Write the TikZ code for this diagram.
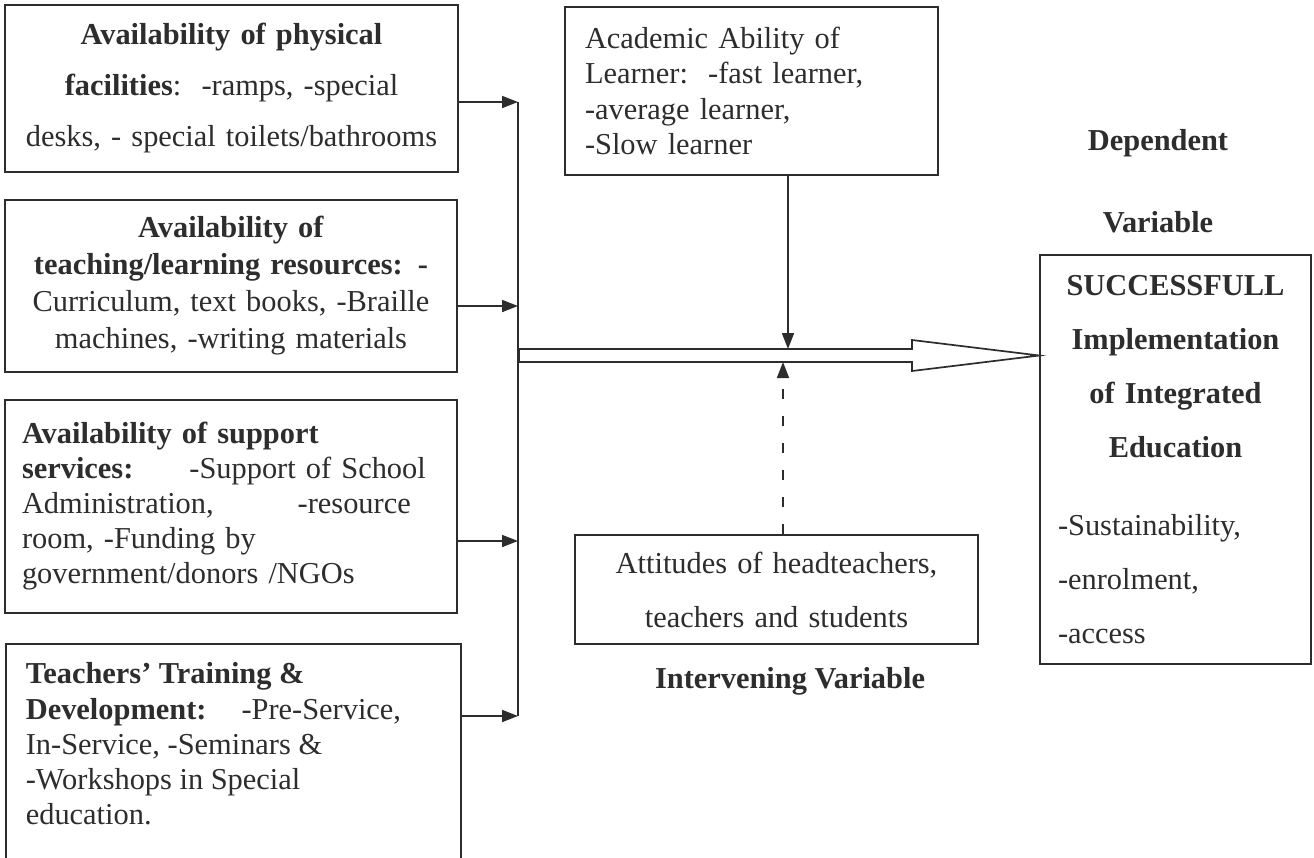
\documentclass[tikz,border=0pt]{standalone}
\usepackage{fontspec}
\setmainfont{Liberation Serif}
\usetikzlibrary{arrows.meta}
\definecolor{ink}{RGB}{45,45,45}
\begin{document}
\begin{tikzpicture}[x=0.5pt,y=-0.5pt,
  box/.style={draw=ink, line width=0.85pt, text=ink, inner sep=0pt},
  conn/.style={draw=ink, line width=0.85pt},
  arr/.style={draw=ink, line width=0.85pt, -{Triangle[length=8pt,width=6pt]}},
  lbl/.style={text=ink, font=\fontsize{15.2pt}{18pt}\selectfont\bfseries, inner sep=0pt, anchor=base}]
\useasboundingbox[fill=white] (0,0) rectangle (1314,858);

% independent variable boxes
\node[box, minimum width=226.5pt, minimum height=83.5pt, text width=215pt, align=center,
      font=\fontsize{15.2pt}{25.5pt}\selectfont] (b1) at (231.5,88.5)
 {\textbf{Availability of physical}\\
  \mbox{\textbf{facilities}:~~-ramps, -special}\\
  \mbox{desks, - special toilets/bathrooms}};

\node[box, minimum width=226pt, minimum height=86pt, text width=215pt, align=center,
      font=\fontsize{15.2pt}{18.5pt}\selectfont] (b2) at (231,286)
 {\textbf{Availability of}\\
  \mbox{\textbf{teaching/learning resources: -}}\\
  \mbox{Curriculum, text books, -Braille}\\
  \mbox{machines, -writing materials}};

\node[box, minimum width=226pt, minimum height=106.5pt, text width=209pt, align=left,
      font=\fontsize{15.2pt}{17.5pt}\selectfont] (b3) at (231,506.5)
 {\mbox{\textbf{Availability of support}}\\
  \mbox{\textbf{services:}\hspace*{28pt}-Support of School}\\
  \mbox{Administration,\hspace*{42pt}-resource}\\
  \mbox{room, -Funding by}\\
  \mbox{government/donors /NGOs}};

\node[box, anchor=north west, inner xsep=10pt, inner ysep=9.5pt] (b4) at (5,643)
 {\begin{minipage}[t][100pt][t]{207.5pt}\raggedright
  \fontsize{15.2pt}{17.6pt}\selectfont
  \mbox{\textbf{Teachers’ Training \&}}\\
  \mbox{\textbf{Development:}\hspace*{17.5pt}-Pre-Service,}\\
  \mbox{In-Service, -Seminars \&}\\
  \mbox{-Workshops in Special}\\
  \mbox{education.}
  \end{minipage}};

% moderating / intervening boxes
\node[box, minimum width=186.5pt, minimum height=84pt, text width=166.5pt, align=left,
      font=\fontsize{15.2pt}{17.6pt}\selectfont] (acad) at (751.5,91)
 {\mbox{Academic Ability of}\\
  \mbox{Learner:~~-fast learner,}\\
  \mbox{-average learner,}\\
  \mbox{-Slow learner}};

\node[box, minimum width=201.5pt, minimum height=54.5pt, text width=190pt, align=center,
      font=\fontsize{15.2pt}{27pt}\selectfont] (att) at (776.5,589.5)
 {\mbox{Attitudes of headteachers,}\\
  \mbox{teachers and students}};

% dependent variable box
\node[box, minimum width=135.5pt, minimum height=204.5pt, text width=117.5pt, align=left,
      font=\fontsize{15.2pt}{27pt}\selectfont] (out) at (1175.5,459.5)
 {\makebox[117.5pt]{\textbf{SUCCESSFULL}}\\
  \makebox[117.5pt]{\textbf{Implementation}}\\
  \makebox[117.5pt]{\textbf{of Integrated}}\\
  \makebox[117.5pt]{\textbf{Education}}\\[12pt]
  -Sustainability,\\
  -enrolment,\\
  -access};

% labels
\node[lbl] (dep) at (1158,150) {Dependent};
\node[lbl] (var) at (1158,232) {Variable};
\node[lbl] (interv) at (790,688) {Intervening Variable};

% connector coordinates
\coordinate (bus) at (518,0);
\path (b1.east) ++(0,13.5) coordinate (a1);
\path (b2.east) ++(0,20) coordinate (a2);
\path (b3.east) ++(0,34.5) coordinate (a3);
\path (b4.north east) ++(0,73) coordinate (a4);

% bus line and input arrows
\draw[conn] (a1 -| bus) -- (a4 -| bus);
\draw[arr] (a1) -- (a1 -| bus);
\draw[arr] (a2) -- (a2 -| bus);
\draw[arr] (a3) -- (a3 -| bus);
\draw[arr] (a4) -- (a4 -| bus);

% hollow main arrow to the dependent variable
\path (out.west) ++(0,-104) coordinate (tip);
\coordinate (s1) at (519,349);
\coordinate (s2) at (519,362);
\coordinate (hb) at (912,0);
\coordinate (h1) at (0,340);
\coordinate (h2) at (0,371);
\draw[conn, fill=white] (s1) -- (s1 -| hb) -- (hb |- h1) -- (tip) -- (hb |- h2) -- (s2 -| hb) -- (s2) -- cycle;

% moderating arrows
\coordinate (hitA) at (788,349);
\coordinate (hitB) at (783,362);
\draw[arr] (acad.south -| hitA) -- (hitA);
\draw[arr, dash pattern=on 5pt off 8.5pt] (att.north -| hitB) -- (hitB);
\end{tikzpicture}
\end{document}
